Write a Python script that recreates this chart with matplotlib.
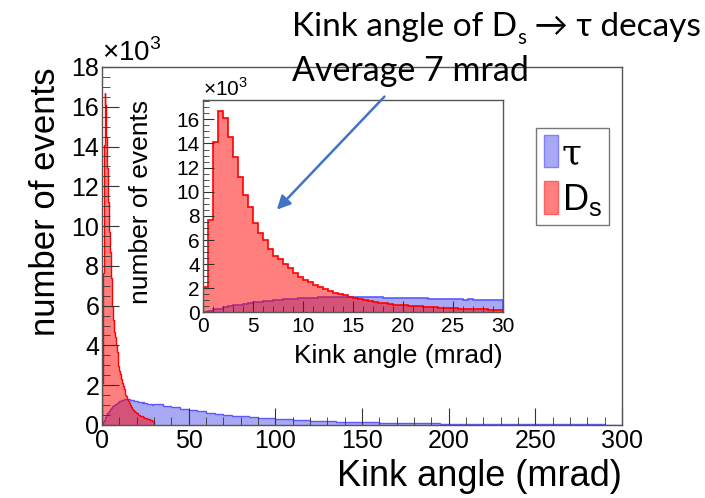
import matplotlib.pyplot as plt
import numpy as np
from matplotlib.patches import FancyArrowPatch
from matplotlib.ticker import MultipleLocator

plt.rcParams["font.family"] = ["Liberation Sans", "DejaVu Sans"]
plt.rcParams["mathtext.fontset"] = "custom"
plt.rcParams["mathtext.rm"] = "Liberation Sans"

# counts in units of 10^3, 0.5 mrad bins from 0 to 30 mrad
ds_counts = [
    2.1, 7.65, 14.1, 16.7, 16.1, 14.5, 12.9, 11.2, 9.7, 8.7,
    7.4, 6.6, 6.0, 5.3, 4.7, 4.4, 4.0, 3.65, 3.3, 2.95,
    2.7, 2.55, 2.3, 2.1, 1.95, 1.8, 1.65, 1.5, 1.45, 1.3,
    1.2, 1.1, 1.0, 0.95, 0.9, 0.8, 0.75, 0.7, 0.66, 0.6,
    0.58, 0.55, 0.52, 0.5, 0.47, 0.45, 0.43, 0.4, 0.38, 0.36,
    0.34, 0.33, 0.31, 0.3, 0.28, 0.27, 0.25, 0.24, 0.22, 0.2,
]
tau_counts = [
    0.05, 0.15, 0.25, 0.33, 0.42, 0.5, 0.58, 0.66, 0.72, 0.8,
    0.85, 0.9, 0.95, 0.98, 1.02, 1.06, 1.08, 1.12, 1.14, 1.17,
    1.19, 1.22, 1.24, 1.26, 1.27, 1.29, 1.3, 1.31, 1.3, 1.32,
    1.3, 1.29, 1.28, 1.28, 1.26, 1.25, 1.24, 1.23, 1.22, 1.2,
    1.2, 1.19, 1.18, 1.16, 1.17, 1.15, 1.13, 1.14, 1.12, 1.1,
    1.1, 1.09, 1.07, 1.08, 1.06, 1.05, 1.04, 1.05, 1.03, 1.05,
]
# tau tail, 5 mrad bins from 30 to 300 mrad
tau_tail = [
    1.05, 0.98, 0.9, 0.82, 0.75, 0.68, 0.62, 0.57, 0.52, 0.47,
    0.43, 0.39, 0.36, 0.33, 0.30, 0.28, 0.25, 0.23, 0.21, 0.2,
    0.18, 0.17, 0.16, 0.15, 0.14, 0.13, 0.12, 0.11, 0.1, 0.1,
    0.09, 0.085, 0.08, 0.075, 0.07, 0.065, 0.06, 0.055, 0.05, 0.05,
    0.045, 0.045, 0.04, 0.04, 0.035, 0.035, 0.03, 0.03, 0.03, 0.025,
    0.025, 0.025, 0.02, 0.02,
]

fine_edges = np.linspace(0, 30, len(ds_counts) + 1)
tail_edges = np.linspace(30, 300, len(tau_tail) + 1)
tau_all = np.concatenate([tau_counts, tau_tail])
tau_edges = np.concatenate([fine_edges, tail_edges[1:]])

RED_FILL = (1, 0, 0, 0.5)
BLUE_FILL = (0.12, 0.12, 0.88, 0.38)
FRAME = "#555555"
NOTE_FONT = ["Lato", "DejaVu Sans"]


def draw_hists(ax, tau_v, tau_e, ds_v, ds_e, lw):
    ax.stairs(tau_v, tau_e, fill=True, color=BLUE_FILL, lw=0)
    ax.stairs(tau_v, tau_e, color="#5a5aff", lw=lw)
    ax.stairs(ds_v, ds_e, fill=True, color=RED_FILL, lw=0)
    ax.stairs(ds_v, ds_e, color="red", lw=lw)


def style_axes(ax, major_x, minor_x, ticksize, major_len, minor_len):
    ax.xaxis.set_major_locator(MultipleLocator(major_x))
    ax.xaxis.set_minor_locator(MultipleLocator(minor_x))
    ax.yaxis.set_major_locator(MultipleLocator(2))
    ax.yaxis.set_minor_locator(MultipleLocator(0.5))
    ax.tick_params(which="both", direction="in", labelsize=ticksize, color="#333333")
    ax.tick_params(which="major", length=major_len)
    ax.tick_params(which="minor", length=minor_len)
    ax.tick_params(axis="y", pad=2)
    ax.tick_params(axis="x", pad=3)
    for s in ax.spines.values():
        s.set_color(FRAME)
        s.set_linewidth(1.0)


def text_run(fig, x, y, pieces, size):
    # lay out text pieces one after another, small ones as subscripts
    renderer = fig.canvas.get_renderer()
    inv = fig.transFigure.inverted()
    for s, sub in pieces:
        t = fig.text(x, y - (0.022 if sub else 0), s, fontsize=size * (0.62 if sub else 1),
                     family=NOTE_FONT, va="center")
        bb = t.get_window_extent(renderer)
        x = inv.transform((bb.x1, bb.y1))[0]


fig = plt.figure(figsize=(7.05, 4.98), dpi=100)

# main plot
ax = fig.add_axes([0.1447, 0.1466, 0.7376, 0.7189])
draw_hists(ax, tau_all, tau_edges, ds_counts, fine_edges, 1.0)
ax.set_xlim(0, 300)
ax.set_ylim(0, 18)
style_axes(ax, 50, 10, 18, 12, 6)
ax.set_xlabel("Kink angle (mrad)", fontsize=26, loc="right", labelpad=4)
ax.set_ylabel("number of events", fontsize=25, loc="top")
ax.yaxis.set_label_coords(-0.076, 0.998)
ax.text(0.0, 1.0, r"$\times$10$^\mathregular{3}$", transform=ax.transAxes,
        fontsize=20, ha="left", va="bottom")

leg_handles = [
    plt.Rectangle((0, 0), 1, 1, facecolor=BLUE_FILL, edgecolor="#8080ff"),
    plt.Rectangle((0, 0), 1, 1, facecolor=RED_FILL, edgecolor="#ff6060"),
]
leg = ax.legend(leg_handles, ["τ", r"D$_\mathregular{s}$"], loc="upper right",
                bbox_to_anchor=(0.975, 0.83), fontsize=26, handlelength=0.4,
                handleheight=1.0, handletextpad=0.1, borderpad=0.2,
                labelspacing=0.3, fancybox=False, framealpha=1,
                borderaxespad=0)
leg.get_frame().set_edgecolor("#777777")
leg.get_frame().set_linewidth(1.0)
leg.get_texts()[0].set_family(["DejaVu Serif"])

# inset
axi = fig.add_axes([0.2875, 0.3725, 0.4255, 0.4267])
draw_hists(axi, tau_counts, fine_edges, ds_counts, fine_edges, 1.2)
axi.set_xlim(0, 30)
axi.set_ylim(0, 17.6)
style_axes(axi, 5, 1, 15, 8, 4)
axi.set_xlabel("Kink angle (mrad)", fontsize=19, loc="right", labelpad=6)
axi.set_ylabel("number of events", fontsize=19, loc="top", labelpad=17)
axi.text(0.0, 1.0, r"$\times$10$^\mathregular{3}$", transform=axi.transAxes,
         fontsize=15, ha="left", va="bottom")

# annotation
text_run(fig, 0.414, 0.945,
         [("Kink angle of D", False), ("s", True), (" → τ decays", False)], 24)
fig.text(0.414, 0.858, "Average 7 mrad", fontsize=24.5, family=NOTE_FONT, va="center")
fig.patches.append(FancyArrowPatch(
    (0.548, 0.81), (0.39, 0.575), transform=fig.transFigure,
    arrowstyle="-|>,head_length=8,head_width=4", color="#4472c4", lw=1.8))

fig.savefig("out.png", dpi=100)
